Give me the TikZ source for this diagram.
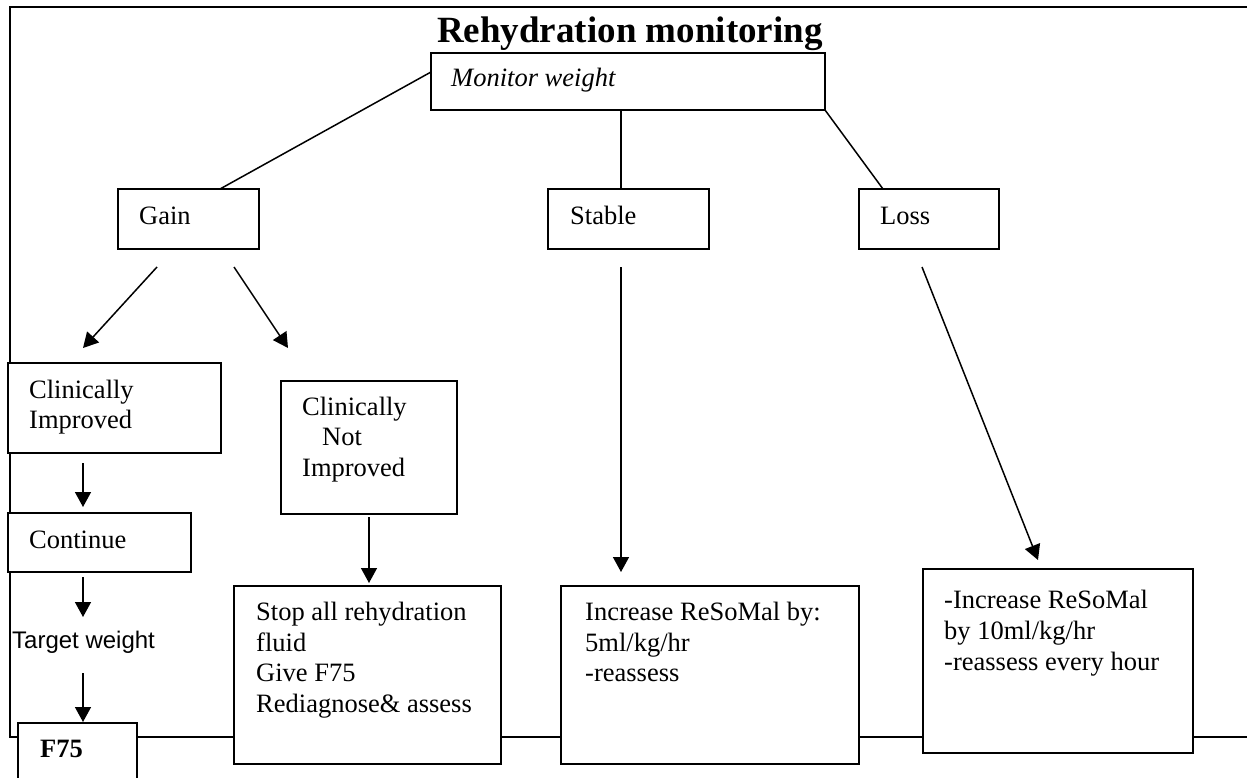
\documentclass[tikz,border=0pt]{standalone}
\usepackage{fontspec}
\setmainfont{Liberation Serif}
\newfontfamily\sansf{Liberation Sans}
\usetikzlibrary{arrows.meta}
\begin{document}
\begin{tikzpicture}[x=1pt,y=-1pt,
  boxnode/.style={draw,line width=1.6pt,fill=white,inner sep=0pt,outer sep=0pt,anchor=north west},
  txt/.style={anchor=base west,inner sep=0pt,font=\fontsize{26.5}{30}\selectfont},
  conn/.style={line width=1.5pt},
  arr/.style={line width=1.5pt,-{Triangle[length=15pt,width=16pt]}},
  framel/.style={line width=2.6pt}]
\useasboundingbox (0,0) rectangle (1247,778);
\clip (0,0) rectangle (1247,778);
% frame
\coordinate (ftr) at (1247,7);
\coordinate (ftl) at (10,7);
\coordinate (fbl) at (10,737);
\coordinate (fbr) at (1247,737);
\draw[framel] (ftr) -- (ftl) -- (fbl) -- (fbr);
% title
\node[anchor=base west,inner sep=0pt,font=\fontsize{37}{40}\selectfont\bfseries] (title) at (437,43) {Rehydration monitoring};
% boxes
\node[boxnode,minimum width=394pt,minimum height=57pt] (monitor) at (431,53) {};
\node[boxnode,minimum width=141pt,minimum height=60pt] (gain) at (118,189) {};
\node[boxnode,minimum width=161pt,minimum height=60pt] (stable) at (548,189) {};
\node[boxnode,minimum width=140pt,minimum height=60pt] (loss) at (859,189) {};
\node[boxnode,minimum width=213pt,minimum height=90pt] (ci) at (8,363) {};
\node[boxnode,minimum width=183pt,minimum height=59pt] (cont) at (8,513) {};
\node[boxnode,minimum width=176pt,minimum height=133pt] (cni) at (281,381) {};
\node[boxnode,minimum width=267pt,minimum height=178pt] (stop) at (234,586) {};
\node[boxnode,minimum width=298pt,minimum height=178pt] (inc) at (561,586) {};
\node[boxnode,minimum width=270pt,minimum height=184pt] (lossbox) at (923,569) {};
\node[boxnode,minimum width=119pt,minimum height=90pt] (f75) at (18,723) {};
% texts
\node[txt,font=\fontsize{26.5}{30}\selectfont\itshape] (monitort) at (451,87) {Monitor weight};
\node[txt] (gaint) at (139,225) {Gain};
\node[txt] (stablet) at (570,225) {Stable};
\node[txt] (losst) at (880,225) {Loss};
\node[txt] (ci1) at (29,398) {Clinically};
\node[txt] (ci2) at (29,428) {Improved};
\node[txt] (contt) at (29,548) {Continue};
\node[anchor=base west,inner sep=0pt,font=\fontsize{24}{28}\selectfont\sansf] (target) at (12,648) {Target weight};
\node[txt,font=\fontsize{26.5}{30}\selectfont\bfseries] (f75t) at (40,757) {F75};
\node[txt] (cni1) at (302,415) {Clinically};
\node[txt] (cni2) at (322,445) {Not};
\node[txt] (cni3) at (302,476) {Improved};
\node[txt] (stop1) at (256,620) {Stop all rehydration};
\node[txt] (stop2) at (256,651) {fluid};
\node[txt] (stop3) at (256,681) {Give F75};
\node[txt] (stop4) at (256,712) {Rediagnose\& assess};
\node[txt] (inc1) at (585,620) {Increase ReSoMal by:};
\node[txt] (inc2) at (585,651) {5ml/kg/hr};
\node[txt] (inc3) at (585,681) {-reassess};
\node[txt] (lb1) at (944,608) {-Increase ReSoMal};
\node[txt] (lb2) at (944,639) {by 10ml/kg/hr};
\node[txt] (lb3) at (944,670) {-reassess every hour};
% connectors
\draw[conn] ([xshift=102pt]gain.north west) -- ([yshift=-19pt]monitor.north west);
\draw[conn] ([xshift=-7pt]monitor.south) -- ([xshift=-7.5pt]stable.north);
\draw[conn] (monitor.south east) -- ([xshift=24pt]loss.north west);
% arrows
\coordinate (a1s) at (157,267); \coordinate (a1e) at (83,348);
\coordinate (a2s) at (234,267); \coordinate (a2e) at (288,348);
\coordinate (a3s) at (621,267); \coordinate (a3e) at (621,572);
\coordinate (a4s) at (922,267); \coordinate (a4e) at (1038,560);
\coordinate (a5s) at (83,463);  \coordinate (a5e) at (83,507);
\coordinate (a6s) at (83,577);  \coordinate (a6e) at (83,617);
\coordinate (a7s) at (83,673);  \coordinate (a7e) at (83,722);
\coordinate (a8s) at (369,517); \coordinate (a8e) at (369,583);
\draw[arr] (a1s) -- (a1e);
\draw[arr] (a2s) -- (a2e);
\draw[arr] (a3s) -- (a3e);
\draw[arr] (a4s) -- (a4e);
\draw[arr] (a5s) -- (a5e);
\draw[arr] (a6s) -- (a6e);
\draw[arr] (a7s) -- (a7e);
\draw[arr] (a8s) -- (a8e);
\end{tikzpicture}
\end{document}
